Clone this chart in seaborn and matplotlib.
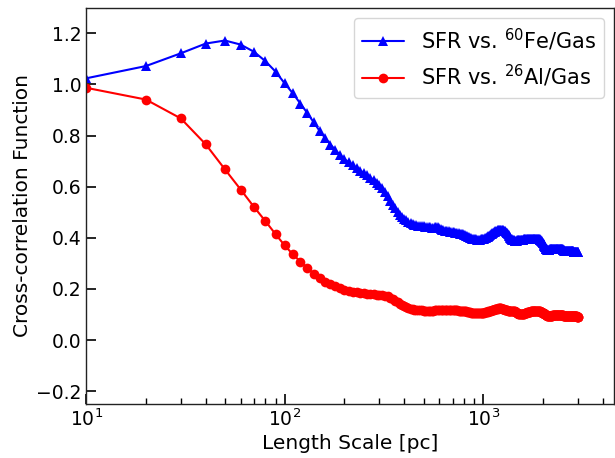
import matplotlib
matplotlib.use("Agg")
import matplotlib.pyplot as plt
import seaborn as sns
import pandas as pd

# Length scales (pc): 10, 20, ..., 3000
length_scale = list(range(10, 3001, 10))

fe60_gas = [
    1.024, 1.072, 1.122, 1.160, 1.172, 1.156, 1.128, 1.091, 1.050, 1.004,
    0.965, 0.925, 0.888, 0.852, 0.818, 0.790, 0.765, 0.743, 0.724, 0.708,
    0.695, 0.685, 0.672, 0.663, 0.654, 0.645, 0.636, 0.627, 0.616, 0.605,
    0.593, 0.578, 0.562, 0.546, 0.530, 0.515, 0.502, 0.491, 0.482, 0.474,
    0.468, 0.463, 0.459, 0.455, 0.452, 0.450, 0.448, 0.447, 0.446, 0.445,
    0.444, 0.443, 0.442, 0.441, 0.440, 0.440, 0.441, 0.442, 0.441, 0.438,
    0.435, 0.432, 0.430, 0.428, 0.427, 0.426, 0.425, 0.424, 0.423, 0.422,
    0.421, 0.420, 0.419, 0.418, 0.417, 0.416, 0.415, 0.414, 0.413, 0.412,
    0.410, 0.408, 0.406, 0.404, 0.402, 0.400, 0.398, 0.397, 0.396, 0.395,
    0.394, 0.394, 0.393, 0.393, 0.393, 0.393, 0.394, 0.394, 0.395, 0.396,
    0.397, 0.398, 0.400, 0.402, 0.404, 0.406, 0.408, 0.410, 0.413, 0.416,
    0.418, 0.420, 0.422, 0.424, 0.426, 0.427, 0.428, 0.429, 0.430, 0.430,
    0.431, 0.431, 0.431, 0.430, 0.430, 0.429, 0.428, 0.427, 0.425, 0.423,
    0.420, 0.417, 0.414, 0.411, 0.408, 0.404, 0.400, 0.397, 0.394, 0.392,
    0.391, 0.390, 0.390, 0.389, 0.389, 0.389, 0.389, 0.390, 0.390, 0.390,
    0.390, 0.390, 0.391, 0.391, 0.392, 0.392, 0.393, 0.393, 0.393, 0.394,
    0.394, 0.394, 0.395, 0.395, 0.395, 0.395, 0.396, 0.396, 0.396, 0.396,
    0.396, 0.396, 0.397, 0.397, 0.397, 0.397, 0.396, 0.396, 0.396, 0.396,
    0.396, 0.396, 0.396, 0.396, 0.396, 0.396, 0.396, 0.396, 0.395, 0.395,
    0.395, 0.394, 0.393, 0.392, 0.390, 0.388, 0.386, 0.384, 0.381, 0.378,
    0.375, 0.372, 0.369, 0.366, 0.363, 0.360, 0.358, 0.356, 0.355, 0.354,
    0.353, 0.353, 0.353, 0.354, 0.354, 0.355, 0.355, 0.356, 0.356, 0.357,
    0.357, 0.357, 0.358, 0.358, 0.358, 0.358, 0.358, 0.358, 0.358, 0.358,
    0.358, 0.358, 0.358, 0.358, 0.358, 0.357, 0.357, 0.357, 0.357, 0.357,
    0.357, 0.357, 0.357, 0.357, 0.357, 0.357, 0.357, 0.356, 0.356, 0.356,
    0.355, 0.354, 0.353, 0.352, 0.351, 0.350, 0.349, 0.349, 0.348, 0.348,
    0.348, 0.348, 0.348, 0.348, 0.348, 0.348, 0.348, 0.348, 0.348, 0.348,
    0.348, 0.348, 0.348, 0.348, 0.348, 0.348, 0.347, 0.347, 0.347, 0.347,
    0.347, 0.347, 0.347, 0.347, 0.346, 0.346, 0.346, 0.346, 0.346, 0.346,
    0.346, 0.346, 0.346, 0.345, 0.345, 0.345, 0.345, 0.345, 0.345, 0.344,
]

al26_gas = [
    0.987, 0.941, 0.867, 0.766, 0.668, 0.589, 0.521, 0.465, 0.414, 0.370,
    0.335, 0.307, 0.282, 0.260, 0.242, 0.229, 0.219, 0.210, 0.203, 0.197,
    0.192, 0.189, 0.187, 0.185, 0.183, 0.181, 0.180, 0.179, 0.178, 0.177,
    0.176, 0.174, 0.171, 0.166, 0.160, 0.154, 0.148, 0.142, 0.137, 0.132,
    0.128, 0.125, 0.122, 0.120, 0.119, 0.118, 0.117, 0.116, 0.116, 0.115,
    0.115, 0.115, 0.115, 0.115, 0.115, 0.115, 0.116, 0.117, 0.118, 0.119,
    0.119, 0.119, 0.119, 0.118, 0.118, 0.118, 0.117, 0.117, 0.117, 0.117,
    0.116, 0.116, 0.116, 0.116, 0.115, 0.115, 0.115, 0.115, 0.114, 0.114,
    0.113, 0.112, 0.111, 0.110, 0.109, 0.108, 0.107, 0.107, 0.106, 0.106,
    0.106, 0.105, 0.105, 0.105, 0.105, 0.105, 0.105, 0.106, 0.106, 0.106,
    0.107, 0.108, 0.109, 0.110, 0.111, 0.112, 0.113, 0.114, 0.115, 0.116,
    0.117, 0.118, 0.119, 0.120, 0.121, 0.122, 0.123, 0.123, 0.124, 0.124,
    0.124, 0.124, 0.124, 0.123, 0.122, 0.121, 0.120, 0.119, 0.118, 0.117,
    0.116, 0.116, 0.115, 0.115, 0.115, 0.115, 0.115, 0.115, 0.115, 0.115,
    0.115, 0.114, 0.113, 0.112, 0.110, 0.108, 0.106, 0.105, 0.104, 0.103,
    0.103, 0.102, 0.102, 0.102, 0.102, 0.102, 0.102, 0.102, 0.102, 0.102,
    0.103, 0.104, 0.105, 0.106, 0.107, 0.108, 0.108, 0.109, 0.110, 0.110,
    0.111, 0.111, 0.112, 0.112, 0.113, 0.113, 0.114, 0.114, 0.114, 0.115,
    0.115, 0.115, 0.115, 0.115, 0.115, 0.115, 0.115, 0.115, 0.115, 0.115,
    0.114, 0.113, 0.112, 0.111, 0.110, 0.109, 0.108, 0.107, 0.106, 0.105,
    0.104, 0.103, 0.102, 0.101, 0.100, 0.099, 0.098, 0.097, 0.096, 0.096,
    0.095, 0.095, 0.095, 0.095, 0.095, 0.095, 0.095, 0.095, 0.096, 0.096,
    0.096, 0.096, 0.097, 0.097, 0.097, 0.097, 0.097, 0.098, 0.098, 0.098,
    0.098, 0.098, 0.098, 0.098, 0.098, 0.098, 0.098, 0.098, 0.098, 0.098,
    0.098, 0.098, 0.098, 0.098, 0.098, 0.098, 0.097, 0.097, 0.097, 0.097,
    0.097, 0.097, 0.096, 0.096, 0.096, 0.096, 0.096, 0.095, 0.095, 0.095,
    0.095, 0.095, 0.095, 0.095, 0.095, 0.095, 0.094, 0.094, 0.094, 0.094,
    0.094, 0.094, 0.094, 0.094, 0.094, 0.094, 0.094, 0.094, 0.094, 0.093,
    0.093, 0.093, 0.093, 0.093, 0.093, 0.093, 0.093, 0.093, 0.093, 0.093,
    0.093, 0.093, 0.093, 0.093, 0.093, 0.092, 0.092, 0.092, 0.092, 0.092,
]

label_fe = r"SFR vs. $^{60}$Fe/Gas"
label_al = r"SFR vs. $^{26}$Al/Gas"

sns.set_style("white")
plt.rcParams["font.family"] = ["DejaVu Sans"]
plt.rcParams["mathtext.default"] = "regular"
plt.rcParams["text.color"] = "black"
plt.rcParams["axes.labelcolor"] = "black"
plt.rcParams["xtick.color"] = "black"
plt.rcParams["ytick.color"] = "black"

df = pd.DataFrame({"L": length_scale, "fe": fe60_gas, "al": al26_gas})

fig = plt.figure(figsize=(6.15, 4.58), dpi=100)
ax = fig.add_axes([0.14, 0.118, 0.859, 0.865])

sns.lineplot(data=df, x="L", y="fe", ax=ax, color="#0000ff", marker="^",
             markersize=7.5, markeredgewidth=0, linewidth=1.5, label=label_fe)
sns.lineplot(data=df, x="L", y="al", ax=ax, color="#ff0000", marker="o",
             markersize=7, markeredgewidth=0, linewidth=1.5, label=label_al)

ax.set_xscale("log")
ax.set_xlim(10, 4570)
ax.set_ylim(-0.25, 1.3)
ax.set_yticks([-0.2, 0.0, 0.2, 0.4, 0.6, 0.8, 1.0, 1.2])
ax.set_xlabel("Length Scale [pc]", fontsize=14.5, color="black", labelpad=3)
ax.set_ylabel("Cross-correlation Function", fontsize=14.5, color="black",
              labelpad=3)
ax.tick_params(axis="both", which="both", bottom=True, left=True,
               top=False, right=False)
ax.tick_params(axis="both", which="major", direction="in", length=7, width=1.2,
               labelsize=13.5, color="black", labelcolor="black")
ax.tick_params(axis="x", which="minor", direction="in", length=4, width=1.0,
               color="black")
for s in ax.spines.values():
    s.set_color("#222222")
    s.set_linewidth(1.0)

leg = ax.legend(loc="upper right", fontsize=15, frameon=True, fancybox=True,
                edgecolor="#cccccc", handlelength=2.0, borderpad=0.4)
for t in leg.get_texts():
    t.set_color("black")

fig.savefig("out.png", dpi=100)
